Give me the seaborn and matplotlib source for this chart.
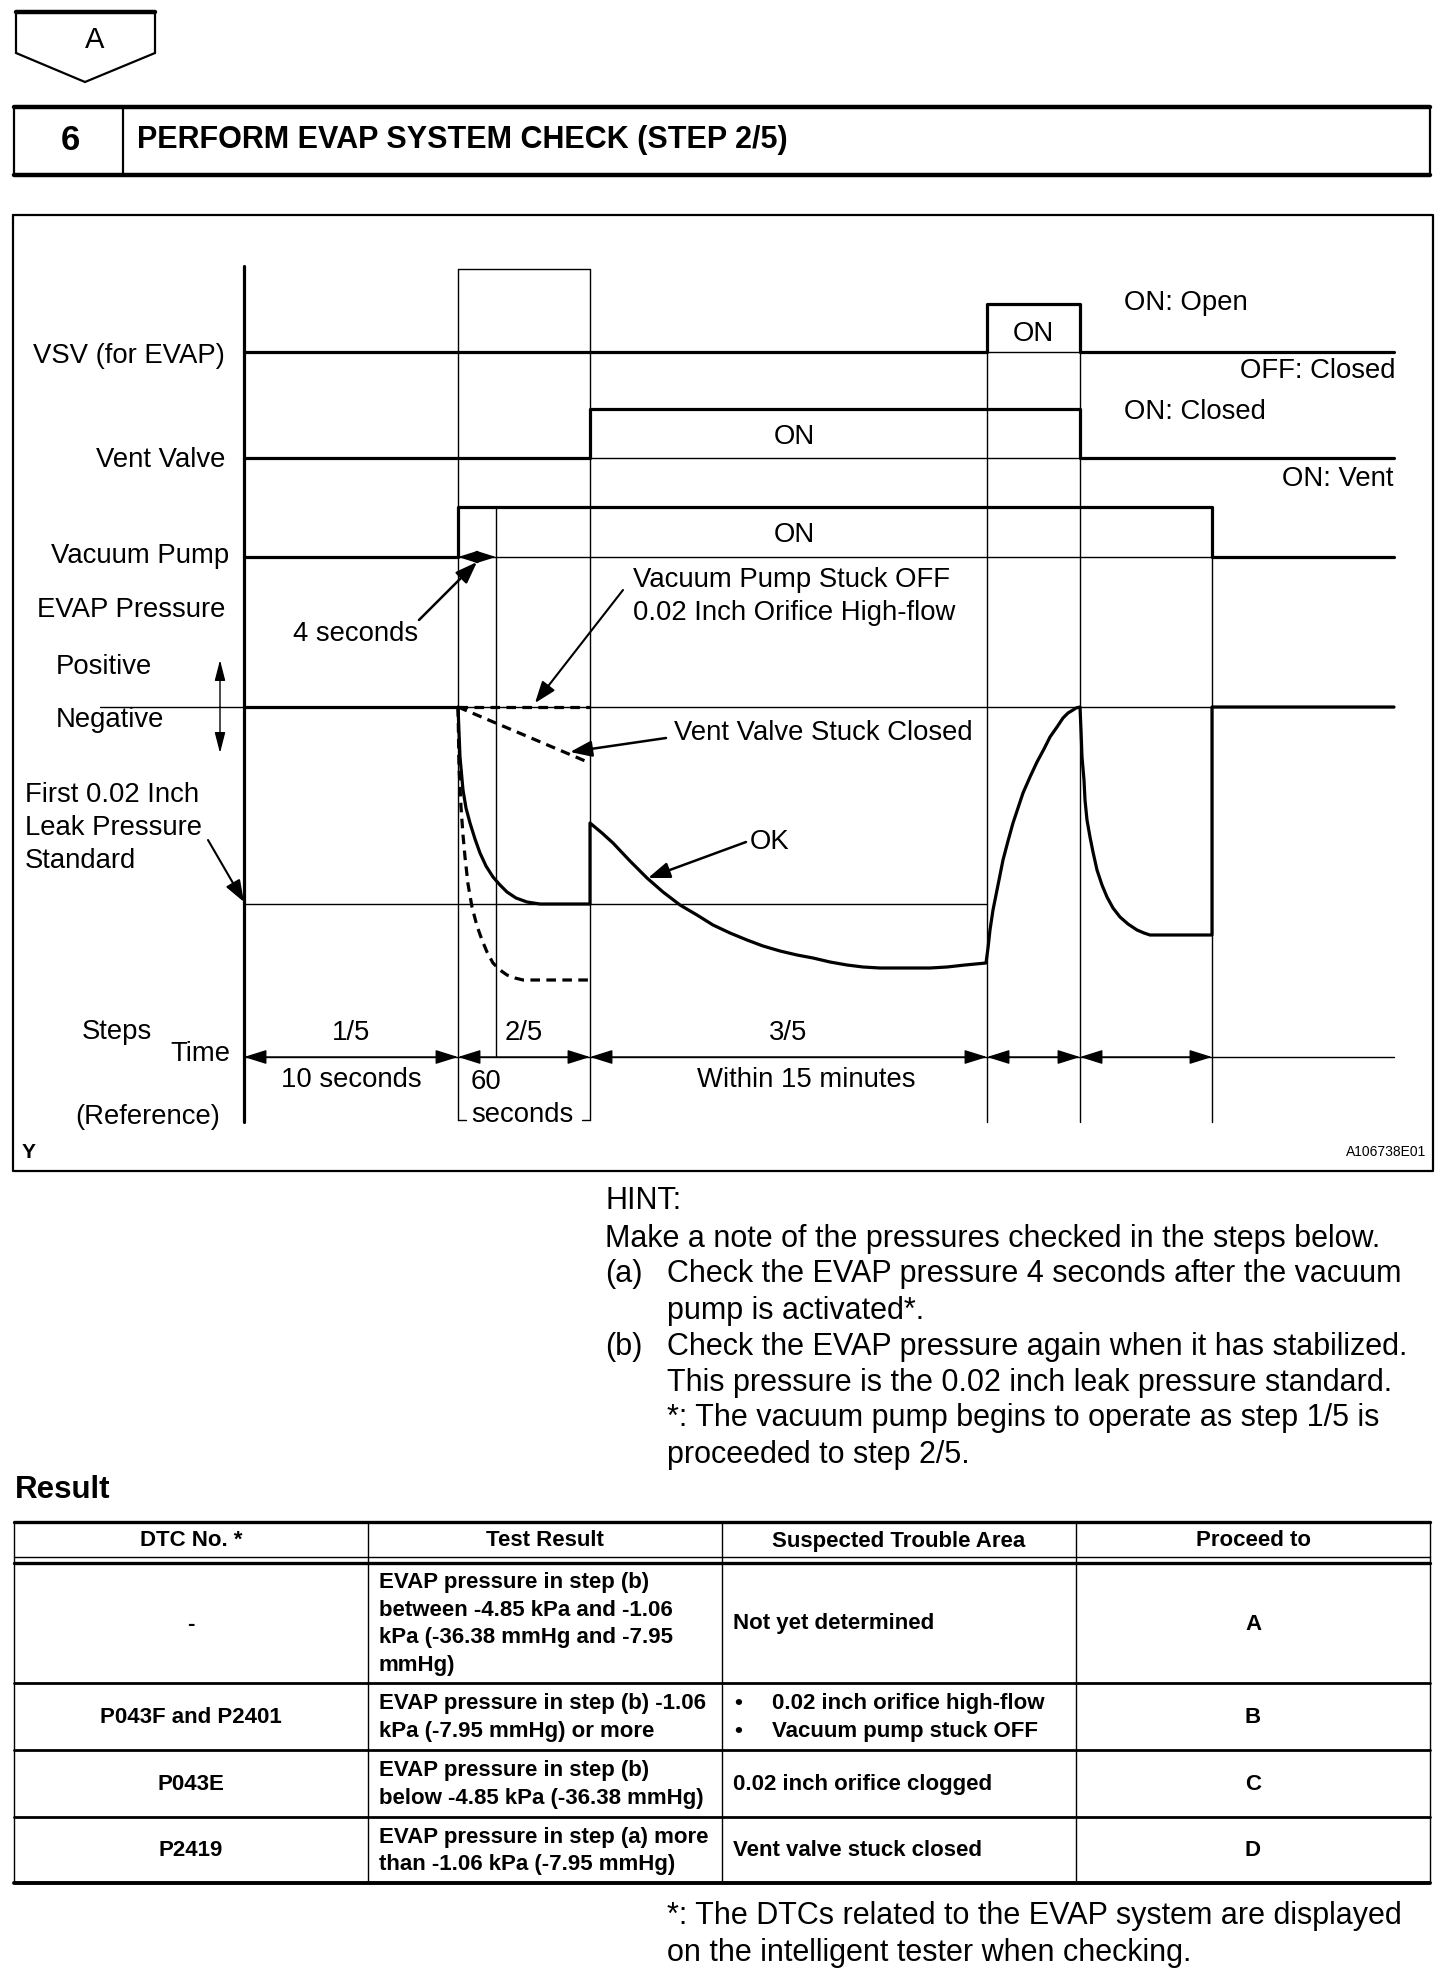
import matplotlib.pyplot as plt
import numpy as np
import pandas as pd
import seaborn as sns
from matplotlib.patches import Polygon

sns.set_style('white')
plt.rcParams['font.family'] = ['Liberation Sans', 'DejaVu Sans']

# ---- timing diagram data (page pixel units) ----
step_edges = [244, 458, 590, 987, 1080, 1212]
line_end = 1394
four_sec = 496
step_labels = ['1/5', '2/5', '3/5']

vsv_x = [244, 987, 987, 1080, 1080, 1394]
vsv_y = [352, 352, 304, 304, 352, 352]
vent_x = [244, 590, 590, 1080, 1080, 1394]
vent_y = [458, 458, 409, 409, 458, 458]
pump_x = [244, 458, 458, 1212, 1212, 1394]
pump_y = [557, 557, 507, 507, 557, 557]

p_zero = 707
p_leak = 904
ok_x = [458, 460, 463, 466, 470, 475, 480, 486, 493, 500, 507, 516, 527, 540, 590,
        590, 602, 613, 630, 647, 663, 680, 697, 713, 730, 747, 763, 780, 797, 813,
        830, 847, 863, 880, 897, 913, 930, 947, 965, 986,
        988, 990, 993, 997, 1003, 1008, 1013, 1018, 1023, 1030, 1037, 1044, 1050,
        1057, 1063, 1068, 1073, 1076, 1080,
        1081, 1082, 1084, 1085, 1087, 1090, 1093, 1097, 1102, 1107, 1113, 1120,
        1128, 1137, 1144, 1150, 1212, 1212, 1394]
ok_y = [707, 757, 790, 808, 823, 839, 853, 866, 877, 885, 892, 898, 902, 904, 904,
        823, 833, 843, 861, 878, 892, 905, 915, 925, 933, 940, 946, 951, 955, 958,
        962, 965, 967, 968, 968, 968, 968, 967, 965, 963,
        948, 930, 910, 890, 860, 841, 823, 808, 793, 777, 762, 749, 737,
        727, 718, 713, 710, 708, 707,
        730, 757, 780, 800, 820, 837, 852, 870, 885, 897, 908, 917,
        924, 930, 933, 935, 935, 707, 707]
clog_x = [458, 459, 461, 463, 465, 468, 472, 477, 482, 487, 493, 500, 507, 515, 523, 590]
clog_y = [707, 767, 807, 835, 857, 884, 907, 926, 940, 952, 963, 970, 975, 978, 980, 980]
stuck_closed_x = [458, 590]
stuck_closed_y = [707, 763]
stuck_off_x = [458, 590]
stuck_off_y = [707, 707]

# ---- result table data ----
table_cols = ['DTC No. *', 'Test Result', 'Suspected Trouble Area', 'Proceed to']
dtc = ['-', 'P043F and P2401', 'P043E', 'P2419']
test_result = [
    ['EVAP pressure in step (b)', 'between -4.85 kPa and -1.06',
     'kPa (-36.38 mmHg and -7.95', 'mmHg)'],
    ['EVAP pressure in step (b) -1.06', 'kPa (-7.95 mmHg) or more'],
    ['EVAP pressure in step (b)', 'below -4.85 kPa (-36.38 mmHg)'],
    ['EVAP pressure in step (a) more', 'than -1.06 kPa (-7.95 mmHg)'],
]
trouble_area = [['Not yet determined'],
                ['0.02 inch orifice high-flow', 'Vacuum pump stuck OFF'],
                ['0.02 inch orifice clogged'],
                ['Vent valve stuck closed']]
bulleted = [False, True, False, False]
proceed = ['A', 'B', 'C', 'D']

hint_lines = [
    ('', 'HINT:'),
    ('', 'Make a note of the pressures checked in the steps below.'),
    ('(a)', 'Check the EVAP pressure 4 seconds after the vacuum'),
    (None, 'pump is activated*.'),
    ('(b)', 'Check the EVAP pressure again when it has stabilized.'),
    (None, 'This pressure is the 0.02 inch leak pressure standard.'),
    (None, '*: The vacuum pump begins to operate as step 1/5 is'),
    (None, 'proceeded to step 2/5.'),
]

W, H = 1456, 1982
fig = plt.figure(figsize=(W / 100, H / 100), dpi=100)
ax = fig.add_axes([0, 0, 1, 1])
ax.set_xlim(0, W)
ax.set_ylim(H, 0)
ax.axis('off')

THICK, THIN = 2.3, 1.0
FS = 19.8
HFS = 22


def txt(x, y, s, size=FS, ha='left', va='center', weight='normal'):
    ax.text(x, y, s, fontsize=size, ha=ha, va=va, weight=weight, color='black')


def seg(xs, ys, lw=THIN, ls='-'):
    sns.lineplot(x=xs, y=ys, ax=ax, sort=False, estimator=None, color='black',
                 lw=lw, linestyle=ls, legend=False)


def arrow(x0, y0, x1, y1, style='-|>', lw=1.4, ms=22):
    ax.annotate('', xy=(x1, y1), xytext=(x0, y0),
                arrowprops=dict(arrowstyle=style, color='black', lw=lw,
                                mutation_scale=ms, shrinkA=0, shrinkB=0))


# ---- header badge and title bar ----
ax.add_patch(Polygon([[16, 12], [155, 12], [155, 53], [85, 82], [16, 53]],
                     closed=True, fill=False, lw=1.6, ec='black'))
ax.plot([16, 155], [12, 12], color='black', lw=3.2)
txt(85, 40, 'A', size=21)

ax.plot([14, 14], [107, 175], color='black', lw=1.6)
ax.plot([1430, 1430], [107, 175], color='black', lw=1.6)
ax.plot([14, 1430], [107, 107], color='black', lw=3.2)
ax.plot([14, 1430], [175, 175], color='black', lw=3.2)
ax.plot([123, 123], [107, 175], color='black', lw=1.6)
txt(70, 140, '6', size=25, ha='center', weight='bold')
txt(137, 140, 'PERFORM EVAP SYSTEM CHECK (STEP 2/5)', size=22, weight='bold')

# ---- diagram frame ----
ax.plot([13, 1433, 1433, 13, 13], [215, 215, 1171, 1171, 215], color='black', lw=1.6)

# reference / grid lines
seg([244, 244], [266, 1122], lw=THICK)
seg([458, 458, 590, 590], [1120, 269, 269, 1120])
seg([458, 466], [1120, 1120])
seg([582, 590], [1120, 1120])
seg([four_sec, four_sec], [507, 1057])
for xe, top in zip(step_edges[3:], [304, 304, 507]):
    seg([xe, xe], [top, 1122])
seg([987, 1080], [352, 352])
seg([590, 1080], [458, 458])
seg([458, 1212], [557, 557])
seg([100, line_end], [p_zero, p_zero])
seg([244, 987], [p_leak, p_leak])
seg([244, line_end], [1057, 1057])

# signals
seg(vsv_x, vsv_y, lw=THICK)
seg(vent_x, vent_y, lw=THICK)
seg(pump_x, pump_y, lw=THICK)
seg([244, 458], [p_zero, p_zero], lw=THICK)
seg(ok_x, ok_y, lw=THICK)
seg(clog_x, clog_y, lw=THICK, ls=(0, (3, 2)))
seg(stuck_closed_x, stuck_closed_y, lw=THICK, ls=(0, (3, 2)))
seg(stuck_off_x, stuck_off_y, lw=THICK, ls=(0, (3, 2)))

# time axis arrows
for a, b in zip(step_edges[:-1], step_edges[1:]):
    arrow(a, 1057, b, 1057, style='<|-|>,head_length=0.7,head_width=0.22', lw=1.0, ms=20)
arrow(458, 557, four_sec, 557, style='<|-|>,head_length=0.7,head_width=0.22', lw=1.0, ms=18)
arrow(220, 707, 220, 660, style='-|>,head_length=0.7,head_width=0.18', lw=1.0, ms=18)
arrow(220, 707, 220, 753, style='-|>,head_length=0.7,head_width=0.18', lw=1.0, ms=18)

# annotation arrows
ann_style = '-|>,head_length=0.6,head_width=0.22'
arrow(419, 620, 477, 562, style=ann_style, lw=1.8)
arrow(623, 590, 535, 703, style=ann_style, lw=1.5)
arrow(666, 738, 570, 752, style=ann_style, lw=1.8)
arrow(746, 842, 648, 878, style=ann_style, lw=1.8)
arrow(208, 840, 244, 902, style=ann_style, lw=1.5)

# diagram labels
txt(225, 356, 'VSV (for EVAP)', ha='right')
txt(225, 460, 'Vent Valve', ha='right')
txt(229, 556, 'Vacuum Pump', ha='right')
txt(225, 610, 'EVAP Pressure', ha='right')
txt(104, 667, 'Positive', ha='center')
txt(110, 720, 'Negative', ha='center')
txt(25, 795, 'First 0.02 Inch')
txt(25, 828, 'Leak Pressure')
txt(25, 861, 'Standard')
txt(1033, 334, 'ON', ha='center')
txt(1124, 303, 'ON: Open')
txt(1396, 371, 'OFF: Closed', ha='right')
txt(1124, 412, 'ON: Closed')
txt(1394, 479, 'ON: Vent', ha='right')
txt(794, 437, 'ON', ha='center')
txt(794, 535, 'ON', ha='center')
txt(356, 634, '4 seconds', ha='center')
txt(633, 580, 'Vacuum Pump Stuck OFF')
txt(633, 613, '0.02 Inch Orifice High-flow')
txt(674, 733, 'Vent Valve Stuck Closed')
txt(750, 842, 'OK')
txt(117, 1032, 'Steps', ha='center')
txt(200, 1054, 'Time', ha='center')
txt(148, 1117, '(Reference)', ha='center')
for lab, a, b in zip(step_labels, step_edges[:3], step_edges[1:4]):
    txt((a + b) / 2, 1033, lab, ha='center')
txt(351, 1080, '10 seconds', ha='center')
txt(471, 1082, '60')
txt(471, 1115, 'seconds')
txt(806, 1080, 'Within 15 minutes', ha='center')
txt(29, 1153, 'Y', size=15, ha='center', weight='bold')
txt(1426, 1152, 'A106738E01', size=10, ha='right')

# ---- hint text ----
hy = [1201, 1239, 1274, 1311, 1347, 1383, 1418, 1455]
for yy, (lab, line) in zip(hy, hint_lines):
    if lab is None:
        txt(667, yy, line, size=HFS)
    elif lab:
        txt(605, yy, lab, size=HFS)
        txt(667, yy, line, size=HFS)
    else:
        txt(605, yy, line, size=HFS)

# ---- result table ----
txt(15, 1490, 'Result', size=22.5, weight='bold')
col_x = [14, 368, 722, 1076, 1430]
row_y = [1522, 1563, 1683, 1750, 1817, 1883]
ax.plot([14, 1430], [1522, 1522], color='black', lw=2.4)
ax.plot([14, 1430], [1557, 1557], color='black', lw=1.0)
ax.plot([14, 1430], [1563, 1563], color='black', lw=2.4)
for yy in row_y[2:-1]:
    ax.plot([14, 1430], [yy, yy], color='black', lw=2.0)
ax.plot([14, 1430], [1883, 1883], color='black', lw=2.8)
for xx in col_x:
    ax.plot([xx, xx], [1522, 1883], color='black', lw=1.0)

TFS = 16
for j, name in enumerate(table_cols):
    txt((col_x[j] + col_x[j + 1]) / 2, 1541, name, size=TFS, ha='center', weight='bold')

line_h = 27.7
for i in range(4):
    top, bot = row_y[i + 1], row_y[i + 2]
    mid = (top + bot) / 2 + 1
    txt((col_x[0] + col_x[1]) / 2, mid, dtc[i], size=TFS, ha='center', weight='bold')
    txt((col_x[3] + col_x[4]) / 2, mid, proceed[i], size=TFS, ha='center', weight='bold')
    lines = test_result[i]
    y0 = mid - line_h * (len(lines) - 1) / 2
    for k, s in enumerate(lines):
        txt(379, y0 + k * line_h, s, size=TFS, weight='bold')
    lines = trouble_area[i]
    y0 = mid - line_h * (len(lines) - 1) / 2
    for k, s in enumerate(lines):
        if bulleted[i]:
            txt(734, y0 + k * line_h, '\u2022', size=TFS, weight='bold')
            txt(772, y0 + k * line_h, s, size=TFS, weight='bold')
        else:
            txt(733, y0 + k * line_h, s, size=TFS, weight='bold')

txt(667, 1916, '*: The DTCs related to the EVAP system are displayed', size=HFS)
txt(667, 1953, 'on the intelligent tester when checking.', size=HFS)

fig.savefig('out.png', dpi=100)
